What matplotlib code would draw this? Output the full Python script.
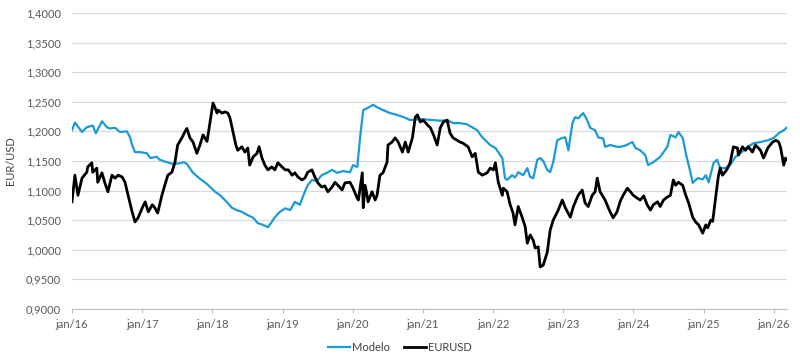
# EUR/USD vs model line chart
import matplotlib
matplotlib.use("Agg")
import matplotlib.pyplot as plt
import matplotlib.dates as mdates
import matplotlib.ticker as mticker
import pandas as pd

# --- Modelo (blue) ---
modelo_dates = [
    "2016-01-01", "2016-01-16", "2016-02-22", "2016-03-18", "2016-04-18", "2016-05-04",
    "2016-06-05", "2016-07-01", "2016-07-16", "2016-08-12", "2016-09-07", "2016-10-13",
    "2016-10-29", "2016-11-09", "2016-11-24", "2016-12-20",
    "2017-01-25", "2017-02-11", "2017-03-17", "2017-04-02", "2017-05-08", "2017-06-09",
    "2017-07-15", "2017-08-06", "2017-08-21", "2017-09-22", "2017-10-28", "2017-12-04",
    "2018-01-15", "2018-02-10", "2018-03-16", "2018-04-12", "2018-05-07", "2018-06-03",
    "2018-07-01", "2018-08-01", "2018-08-25", "2018-09-21", "2018-10-17", "2018-11-06",
    "2018-11-22", "2018-12-18",
    "2019-01-15", "2019-02-10", "2019-03-06", "2019-04-01", "2019-04-27", "2019-05-12",
    "2019-06-03", "2019-06-28", "2019-07-24", "2019-08-20", "2019-09-16", "2019-10-12",
    "2019-11-13", "2019-12-18",
    "2020-01-03", "2020-01-25", "2020-02-10", "2020-02-25", "2020-03-21", "2020-04-16",
    "2020-05-07", "2020-06-07", "2020-07-13", "2020-08-18", "2020-10-01", "2020-10-27",
    "2020-12-18",
    "2021-01-24", "2021-02-25", "2021-04-01", "2021-05-07", "2021-06-07", "2021-07-13",
    "2021-08-18", "2021-09-14", "2021-10-10", "2021-11-06", "2021-12-01", "2021-12-17",
    "2022-01-13", "2022-01-28", "2022-02-18", "2022-03-04", "2022-03-15", "2022-04-10",
    "2022-04-25", "2022-05-12", "2022-06-07", "2022-06-28", "2022-07-13", "2022-07-29",
    "2022-08-19", "2022-09-03", "2022-09-19", "2022-10-10", "2022-10-25", "2022-11-10",
    "2022-12-01", "2022-12-27",
    "2023-01-12", "2023-01-28", "2023-02-18", "2023-03-04", "2023-03-20", "2023-04-15",
    "2023-05-06", "2023-05-21", "2023-06-16", "2023-07-02", "2023-07-28", "2023-08-07",
    "2023-09-02", "2023-10-08", "2023-10-25", "2023-11-20", "2023-12-27",
    "2024-01-12", "2024-02-06", "2024-03-03", "2024-03-18", "2024-04-14", "2024-05-20",
    "2024-06-26", "2024-07-12", "2024-08-08", "2024-08-23", "2024-09-14", "2024-09-30",
    "2024-10-25", "2024-11-05", "2024-12-01", "2024-12-27",
    "2025-01-12", "2025-01-27", "2025-02-22", "2025-03-12", "2025-03-28", "2025-04-24",
    "2025-05-19", "2025-06-15", "2025-07-11", "2025-08-17", "2025-09-18", "2025-10-24",
    "2025-12-01",
    "2026-01-01", "2026-01-27", "2026-02-22", "2026-03-12",
]
modelo_values = [
    1.202, 1.215, 1.199, 1.207, 1.210, 1.197,
    1.217, 1.207, 1.205, 1.206, 1.199, 1.200,
    1.190, 1.177, 1.165, 1.165,
    1.163, 1.155, 1.157, 1.152, 1.148, 1.145,
    1.146, 1.148, 1.145, 1.130, 1.120, 1.111,
    1.098, 1.092, 1.081, 1.071, 1.067, 1.064,
    1.059, 1.054, 1.045, 1.042, 1.038, 1.047,
    1.055, 1.064,
    1.070, 1.067, 1.081, 1.076, 1.098, 1.109,
    1.118, 1.116, 1.126, 1.130, 1.135, 1.130,
    1.133, 1.131,
    1.143, 1.140, 1.194, 1.236, 1.240, 1.245,
    1.241, 1.236, 1.231, 1.228, 1.223, 1.219,
    1.221,
    1.220, 1.219, 1.218, 1.219, 1.214, 1.214,
    1.212, 1.207, 1.202, 1.190, 1.182, 1.177,
    1.172, 1.165, 1.155, 1.121, 1.118, 1.126,
    1.122, 1.131, 1.126, 1.138, 1.123, 1.121,
    1.152, 1.155, 1.150, 1.135, 1.131, 1.148,
    1.185, 1.189,
    1.190, 1.168, 1.214, 1.224, 1.222, 1.231,
    1.219, 1.206, 1.202, 1.190, 1.188, 1.174,
    1.177, 1.174, 1.174, 1.176, 1.182,
    1.172, 1.168, 1.160, 1.143, 1.148, 1.157,
    1.174, 1.194, 1.190, 1.199, 1.189, 1.163,
    1.130, 1.113, 1.121, 1.119,
    1.126, 1.114, 1.147, 1.152, 1.138, 1.138,
    1.143, 1.157, 1.163, 1.174, 1.180, 1.182,
    1.185,
    1.189, 1.197, 1.202, 1.207,
]

# --- EURUSD (black) ---
eurusd_dates = [
    "2016-01-01", "2016-01-16", "2016-02-01", "2016-02-22", "2016-03-18", "2016-03-23",
    "2016-04-13", "2016-04-18", "2016-05-09", "2016-05-14", "2016-06-05", "2016-06-20",
    "2016-07-06", "2016-07-27", "2016-08-12", "2016-08-28", "2016-09-18", "2016-10-03",
    "2016-10-19", "2016-11-09", "2016-11-24", "2016-12-10",
    "2017-01-01", "2017-01-16", "2017-02-01", "2017-02-22", "2017-03-07", "2017-03-22",
    "2017-04-13", "2017-04-28", "2017-05-14", "2017-06-04", "2017-06-20", "2017-07-04",
    "2017-07-26", "2017-08-10", "2017-08-21", "2017-09-06", "2017-09-22", "2017-10-12",
    "2017-10-28", "2017-11-13", "2017-12-04", "2017-12-20",
    "2018-01-04", "2018-01-15", "2018-01-25", "2018-01-30", "2018-02-20", "2018-03-07",
    "2018-03-22", "2018-04-02", "2018-04-18", "2018-05-03", "2018-05-13", "2018-06-03",
    "2018-06-19", "2018-07-04", "2018-07-14", "2018-08-01", "2018-08-21", "2018-09-01",
    "2018-09-16", "2018-10-01", "2018-10-17", "2018-11-06", "2018-11-22", "2018-12-08",
    "2018-12-29",
    "2019-01-15", "2019-01-31", "2019-02-20", "2019-03-06", "2019-03-22", "2019-04-12",
    "2019-04-27", "2019-05-12", "2019-06-03", "2019-06-18", "2019-07-04", "2019-07-24",
    "2019-08-09", "2019-08-25", "2019-09-16", "2019-10-01", "2019-10-16", "2019-11-07",
    "2019-11-22", "2019-12-18",
    "2020-01-03", "2020-01-25", "2020-01-31", "2020-02-20", "2020-02-25", "2020-03-06",
    "2020-03-16", "2020-03-21", "2020-04-11", "2020-04-27", "2020-05-07", "2020-05-22",
    "2020-06-07", "2020-06-28", "2020-07-03", "2020-07-24", "2020-08-09", "2020-08-25",
    "2020-09-16", "2020-10-01", "2020-10-16", "2020-11-07", "2020-11-22", "2020-12-03",
    "2020-12-18",
    "2021-01-03", "2021-01-24", "2021-02-09", "2021-02-25", "2021-03-16", "2021-04-01",
    "2021-04-17", "2021-05-07", "2021-05-22", "2021-06-07", "2021-06-28", "2021-07-13",
    "2021-07-29", "2021-08-24", "2021-09-14", "2021-09-30", "2021-10-16", "2021-11-06",
    "2021-12-01", "2021-12-17",
    "2022-01-03", "2022-01-13", "2022-01-28", "2022-02-18", "2022-02-23", "2022-03-15",
    "2022-03-31", "2022-04-15", "2022-04-25", "2022-05-12", "2022-06-01", "2022-06-17",
    "2022-06-28", "2022-07-13", "2022-07-29", "2022-08-08", "2022-08-24", "2022-09-03",
    "2022-09-19", "2022-10-10", "2022-10-25", "2022-11-10", "2022-12-06", "2022-12-27",
    "2023-01-12", "2023-02-07", "2023-02-23", "2023-03-20", "2023-04-10", "2023-04-25",
    "2023-05-11", "2023-06-01", "2023-06-16", "2023-06-27", "2023-07-12", "2023-08-07",
    "2023-09-02", "2023-09-18", "2023-10-08", "2023-10-25", "2023-11-09", "2023-12-01",
    "2023-12-17",
    "2024-01-01", "2024-01-22", "2024-02-06", "2024-02-24", "2024-03-13", "2024-03-30",
    "2024-04-14", "2024-05-06", "2024-05-20", "2024-06-06", "2024-06-26", "2024-07-12",
    "2024-07-27", "2024-08-08", "2024-08-23", "2024-09-14", "2024-09-30", "2024-10-15",
    "2024-11-05", "2024-11-20", "2024-12-06", "2024-12-27",
    "2025-01-12", "2025-01-22", "2025-02-07", "2025-02-17", "2025-03-03", "2025-03-18",
    "2025-03-28", "2025-04-09", "2025-05-01", "2025-05-19", "2025-06-05", "2025-06-26",
    "2025-07-01", "2025-07-22", "2025-08-07", "2025-08-22", "2025-09-12", "2025-09-28",
    "2025-10-24", "2025-11-09", "2025-12-01", "2025-12-26",
    "2026-01-12", "2026-01-27", "2026-02-06", "2026-02-22", "2026-03-03", "2026-03-12",
]
eurusd_values = [
    1.081, 1.126, 1.092, 1.121, 1.131, 1.140,
    1.147, 1.131, 1.138, 1.114, 1.130, 1.113,
    1.098, 1.126, 1.121, 1.126, 1.123, 1.114,
    1.092, 1.064, 1.047, 1.054,
    1.071, 1.081, 1.064, 1.076, 1.071, 1.062,
    1.092, 1.109, 1.126, 1.131, 1.148, 1.177,
    1.189, 1.199, 1.205, 1.189, 1.182, 1.163,
    1.177, 1.194, 1.183, 1.216,
    1.248, 1.240, 1.231, 1.236, 1.231, 1.233,
    1.231, 1.223, 1.199, 1.177, 1.168, 1.174,
    1.165, 1.172, 1.143, 1.157, 1.163, 1.174,
    1.155, 1.143, 1.135, 1.140, 1.135, 1.147,
    1.140,
    1.135, 1.135, 1.126, 1.130, 1.123, 1.118,
    1.121, 1.131, 1.135, 1.123, 1.113, 1.106,
    1.108, 1.098, 1.106, 1.114, 1.109, 1.101,
    1.113, 1.114,
    1.104, 1.087, 1.084, 1.130, 1.071, 1.109,
    1.092, 1.081, 1.098, 1.084, 1.092, 1.126,
    1.130, 1.148, 1.177, 1.182, 1.189, 1.182,
    1.165, 1.182, 1.165, 1.189, 1.224, 1.228,
    1.216,
    1.219, 1.211, 1.206, 1.194, 1.177, 1.206,
    1.216, 1.219, 1.197, 1.189, 1.185, 1.182,
    1.180, 1.174, 1.157, 1.163, 1.131, 1.126,
    1.130, 1.138,
    1.135, 1.147, 1.114, 1.092, 1.104, 1.098,
    1.076, 1.062, 1.042, 1.073, 1.055, 1.039,
    1.011, 1.025, 1.016, 1.003, 1.005, 0.971,
    0.974, 0.996, 1.033, 1.050, 1.067, 1.084,
    1.071, 1.055, 1.073, 1.092, 1.101, 1.079,
    1.073, 1.092, 1.098, 1.121, 1.098, 1.084,
    1.064, 1.054, 1.064, 1.082, 1.092, 1.104,
    1.098,
    1.092, 1.087, 1.084, 1.091, 1.076, 1.067,
    1.076, 1.081, 1.073, 1.084, 1.089, 1.092,
    1.118, 1.109, 1.114, 1.109, 1.092, 1.079,
    1.055, 1.047, 1.042, 1.028,
    1.042, 1.037, 1.050, 1.048, 1.084, 1.123,
    1.138, 1.126, 1.135, 1.147, 1.174, 1.172,
    1.160, 1.174, 1.168, 1.174, 1.165, 1.177,
    1.168, 1.155, 1.172, 1.182,
    1.185, 1.182, 1.172, 1.143, 1.155, 1.152,
]

year_ticks = list(range(2016, 2027))
y_min, y_max = 0.9, 1.4

plt.rcParams["font.family"] = ["Lato", "DejaVu Sans"]

fig = plt.figure(figsize=(8.0, 3.63), dpi=100)
ax = fig.add_axes([0.09, 0.149, 0.894, 0.815])

ax.plot(pd.to_datetime(modelo_dates), modelo_values, color="#1b9ad6", lw=1.6,
        label="Modelo", solid_joinstyle="round")
ax.plot(pd.to_datetime(eurusd_dates), eurusd_values, color="black", lw=2.0,
        label="EURUSD", solid_joinstyle="round")

ax.set_ylim(y_min, y_max)
ax.set_xlim(pd.Timestamp("2016-01-01"), pd.Timestamp("2026-03-12"))
ax.yaxis.set_major_locator(mticker.MultipleLocator(0.05))
ax.yaxis.set_major_formatter(
    mticker.FuncFormatter(lambda v, _: f"{v:.4f}".replace(".", ",")))

ax.set_xticks([pd.Timestamp(f"{y}-01-01") for y in year_ticks])
ax.xaxis.set_major_formatter(mticker.FuncFormatter(
    lambda v, _: "jan/" + mdates.num2date(v).strftime("%y")))

ax.grid(axis="y", color="#d9d9d9", lw=0.9)
ax.set_axisbelow(True)
for side in ["top", "right", "left"]:
    ax.spines[side].set_visible(False)
ax.spines["bottom"].set_color("#bfbfbf")
ax.tick_params(axis="y", length=0, pad=8, labelsize=8, labelcolor="#595959")
ax.tick_params(axis="x", length=3, color="#bfbfbf", pad=4, labelsize=8,
               labelcolor="#595959")

ax.set_ylabel("EUR/USD", fontsize=8, color="#404040", labelpad=6)
ax.yaxis.set_label_coords(-0.078, 0.5)

fig.legend(loc="lower center", bbox_to_anchor=(0.5, 0.0), ncol=2, frameon=False,
           fontsize=8, handlelength=2.0, handletextpad=0.2, columnspacing=1.2,
           labelcolor="#404040")

fig.savefig("out.png", dpi=100)
